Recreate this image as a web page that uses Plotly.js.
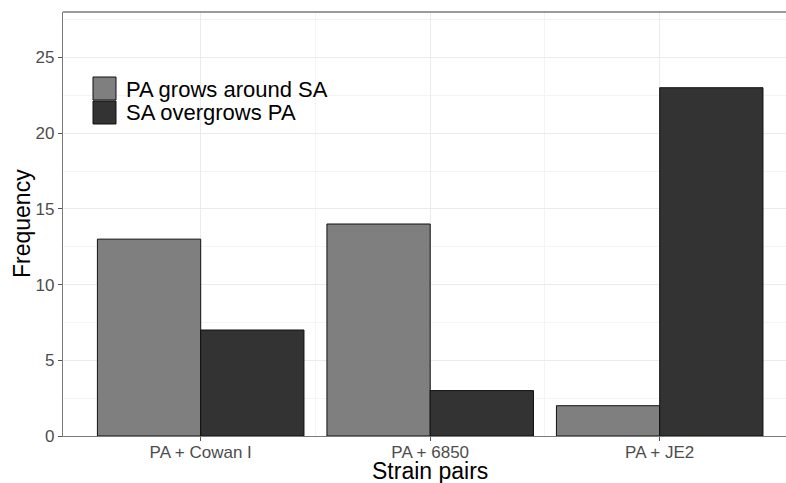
<!DOCTYPE html>
<html>
<head>
<meta charset="utf-8">
<script src="https://cdn.plot.ly/plotly-3.0.1.min.js"></script>
<style>html,body{margin:0;padding:0;background:#fff;}#chart{width:786px;height:483px;}</style>
</head>
<body>
<div id="chart"></div>
<script>
var categories = ["PA + Cowan I", "PA + 6850", "PA + JE2"];
var seriesNames = ["PA grows around SA", "SA overgrows PA"];
var growsAround = [13, 14, 2];
var overgrows = [7, 3, 23];
var yTickVals = [0, 5, 10, 15, 20, 25];
var colors = ["#7f7f7f", "#333333"];

var positions = categories.map(function (c, i) { return i; });
var FONT = "Liberation Sans, Arial, sans-serif";

var traces = [growsAround, overgrows].map(function (vals, k) {
  return {
    type: "bar",
    x: positions,
    y: vals,
    name: seriesNames[k],
    marker: { color: colors[k], line: { color: "#111111", width: 1 } },
    showlegend: false,
    hoverinfo: "x+y+name"
  };
});

// plot area geometry (pixels)
var W = 786, H = 483, L = 63, R = 0, T = 12, B = 47;
var pw = W - L - R, ph = H - T - B;
function px2x(px) { return (px - L) / pw; }
function py2y(py) { return (H - B - py) / ph; }

var shapes = [];
var annotations = [];
// top panel border (panel is cropped on the right)
shapes.push({ type: "line", xref: "paper", yref: "paper", x0: 0, x1: 1, y0: 1, y1: 1,
  line: { color: "#7a7a7a", width: 1.3 } });
// custom legend
var keyTop = [77, 101];
seriesNames.forEach(function (n, k) {
  shapes.push({
    type: "rect", xref: "paper", yref: "paper",
    x0: px2x(93), x1: px2x(116), y0: py2y(keyTop[k] + 23), y1: py2y(keyTop[k]),
    fillcolor: colors[k], line: { color: "#111111", width: 1 }
  });
  annotations.push({
    xref: "paper", yref: "paper", x: px2x(124), y: py2y(keyTop[k] + 12),
    xanchor: "left", yanchor: "middle", showarrow: false, text: n,
    font: { family: FONT, size: 22, color: "#000000" }
  });
});
// x axis title centered on the middle category
annotations.push({
  xref: "x", yref: "paper", x: 1, y: py2y(471), xanchor: "center", yanchor: "middle",
  showarrow: false, text: "Strain pairs", font: { family: FONT, size: 23, color: "#000000" }
});
// y axis title
annotations.push({
  xref: "paper", yref: "paper", x: px2x(22), y: 0.5, xanchor: "center", yanchor: "middle",
  textangle: -90, showarrow: false, text: "Frequency",
  font: { family: FONT, size: 23, color: "#000000" }
});

var layout = {
  width: W, height: H,
  margin: { l: L, r: R, t: T, b: B, pad: 0 },
  paper_bgcolor: "#ffffff", plot_bgcolor: "#ffffff",
  font: { family: FONT },
  barmode: "group", bargap: 0.1, bargroupgap: 0,
  xaxis: {
    type: "linear",
    range: [-0.6, -0.6 + pw / 229.5],
    tickmode: "array", tickvals: positions, ticktext: categories,
    showgrid: true, gridcolor: "#ebebeb", gridwidth: 1.1,
    minor: { tickmode: "array", tickvals: [0.5, 1.5], showgrid: true, gridcolor: "#f4f4f4", gridwidth: 0.6, ticks: "" },
    zeroline: false,
    showline: true, linecolor: "#7a7a7a", linewidth: 1.3,
    ticks: "outside", ticklen: 4, tickcolor: "#555555", tickwidth: 1,
    ticklabelstandoff: -4,
    tickfont: { family: FONT, size: 17, color: "#4d4d4d" },
    fixedrange: true
  },
  yaxis: {
    range: [0, 28],
    tickmode: "array", tickvals: yTickVals,
    showgrid: true, gridcolor: "#ebebeb", gridwidth: 1.1,
    minor: { dtick: 2.5, tick0: 0, showgrid: true, gridcolor: "#f4f4f4", gridwidth: 0.6, ticks: "" },
    zeroline: false,
    showline: true, linecolor: "#7a7a7a", linewidth: 1.3,
    ticks: "outside", ticklen: 4, tickcolor: "#555555", tickwidth: 1,
    tickfont: { family: FONT, size: 17, color: "#4d4d4d" },
    fixedrange: true
  },
  shapes: shapes,
  annotations: annotations
};

Plotly.newPlot("chart", traces, layout, { displayModeBar: false });
</script>
</body>
</html>
